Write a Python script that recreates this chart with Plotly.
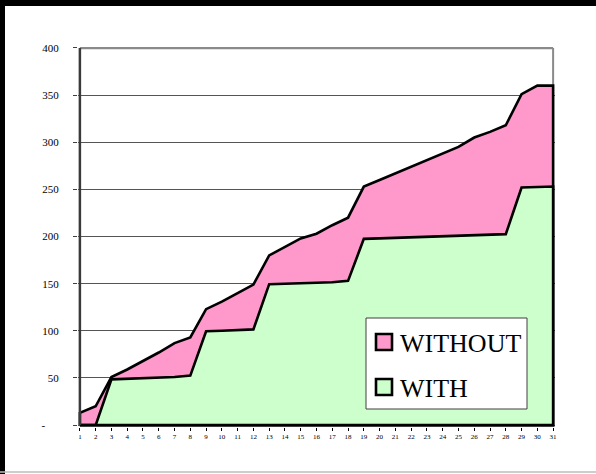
import plotly.graph_objects as go

# Days of the period
days = list(range(1, 32))

# Cumulative totals for the two scenarios
without_vals = [13, 20, 51, 59, 68, 77, 87, 93, 123, 131, 140, 149, 180, 189, 198,
                203, 212, 220, 253, 260, 267, 274, 281, 288, 295, 305, 311, 318,
                351, 360, 360]
with_vals = [0, 0, 48.5, 49, 49.5, 50, 51, 52.5, 99.5, 100, 100.5, 101.5, 149.5, 150,
             150.5, 151, 151.5, 153, 197.5, 198, 198.5, 199, 199.5, 200, 200.5, 201,
             201.5, 202.5, 252, 252.5, 253]

series_names = ["WITHOUT", "WITH"]
series_fills = ["#FF99CC", "#CCFFCC"]

y_ticks = [0, 50, 100, 150, 200, 250, 300, 350, 400]
y_ticktext = ["-\u00a0\u00a0\u00a0\u00a0\u00a0"] + [str(v) for v in y_ticks[1:]]

W, H = 596, 474
ML, MR, MT, MB = 78, 41, 47, 47
PW, PH = W - ML - MR, H - MT - MB


def px_x(p):
    return (p - ML) / PW


def px_y(p):
    return 1 - (p - MT) / PH


def closed_area(xs, ys):
    # outline of the area: baseline -> values -> baseline -> back to start
    return ([xs[0]] + xs + [xs[-1], xs[0]], [0] + ys + [0, 0])


fig = go.Figure()
for vals, fillc in zip([without_vals, with_vals], series_fills):
    px, py = closed_area(days, vals)
    fig.add_trace(go.Scatter(
        x=px, y=py, mode="lines", fill="toself", fillcolor=fillc,
        line=dict(color="black", width=2.6), showlegend=False, hoverinfo="skip",
    ))

x0, x1 = days[0], days[-1]
shapes = [
    # plot frame
    dict(type="line", xref="x", yref="y", x0=x0, x1=x1, y0=400, y1=400,
         line=dict(color="#8a8a8a", width=2.5), layer="above"),
    dict(type="line", xref="x", yref="y", x0=x1, x1=x1, y0=0, y1=400,
         line=dict(color="#8a8a8a", width=2), layer="below"),
    dict(type="line", xref="x", yref="y", x0=x0, x1=x0, y0=0, y1=400,
         line=dict(color="#3a3a3a", width=2.5), layer="above"),
    # outer chart border
    dict(type="rect", xref="paper", yref="paper", x0=px_x(0), x1=px_x(5),
         y0=px_y(474), y1=px_y(0), fillcolor="black", line=dict(width=0)),
    dict(type="rect", xref="paper", yref="paper", x0=px_x(0), x1=px_x(596),
         y0=px_y(6), y1=px_y(0), fillcolor="black", line=dict(width=0)),
    dict(type="line", xref="paper", yref="paper", x0=px_x(0), x1=px_x(596),
         y0=px_y(472), y1=px_y(472), line=dict(color="#bdbdbd", width=1.5)),
    # legend box
    dict(type="rect", xref="paper", yref="paper", x0=px_x(366), x1=px_x(527),
         y0=px_y(409), y1=px_y(318), fillcolor="white",
         line=dict(color="#404040", width=1), layer="above"),
]

annotations = []
legend_rows = [342, 387]
for name, fillc, cy in zip(series_names, series_fills, legend_rows):
    shapes.append(dict(type="rect", xref="paper", yref="paper",
                       x0=px_x(376), x1=px_x(392), y0=px_y(cy + 8), y1=px_y(cy - 8),
                       fillcolor=fillc, line=dict(color="black", width=2.6),
                       layer="above"))
    annotations.append(dict(text=name, xref="paper", yref="paper",
                            x=px_x(398), y=px_y(cy + 1), xanchor="left", yanchor="middle",
                            showarrow=False,
                            font=dict(family="Liberation Serif", size=26, color="black")))

fig.update_layout(
    width=W, height=H,
    margin=dict(l=ML, r=MR, t=MT, b=MB, pad=0),
    paper_bgcolor="white", plot_bgcolor="white",
    shapes=shapes, annotations=annotations,
    showlegend=False,
    xaxis=dict(
        range=[0.88, 31.12], tickmode="array", tickvals=days,
        ticktext=[str(d) for d in days], showgrid=False, zeroline=False,
        ticks="outside", ticklen=3, tickcolor="black", tickwidth=1,
        tickfont=dict(family="Liberation Serif", size=7, color="black"),
        showline=False, fixedrange=True,
    ),
    yaxis=dict(
        range=[-2, 401], tickmode="array", tickvals=y_ticks, ticktext=y_ticktext,
        showgrid=True, gridcolor="#555555", gridwidth=1, zeroline=False,
        ticks="outside", ticklen=4, tickcolor="#404040", tickwidth=1,
        ticklabelstandoff=12,
        tickfont=dict(family="Liberation Serif", size=11, color="black"),
        showline=False, fixedrange=True,
    ),
)

fig.write_html("out.html")
